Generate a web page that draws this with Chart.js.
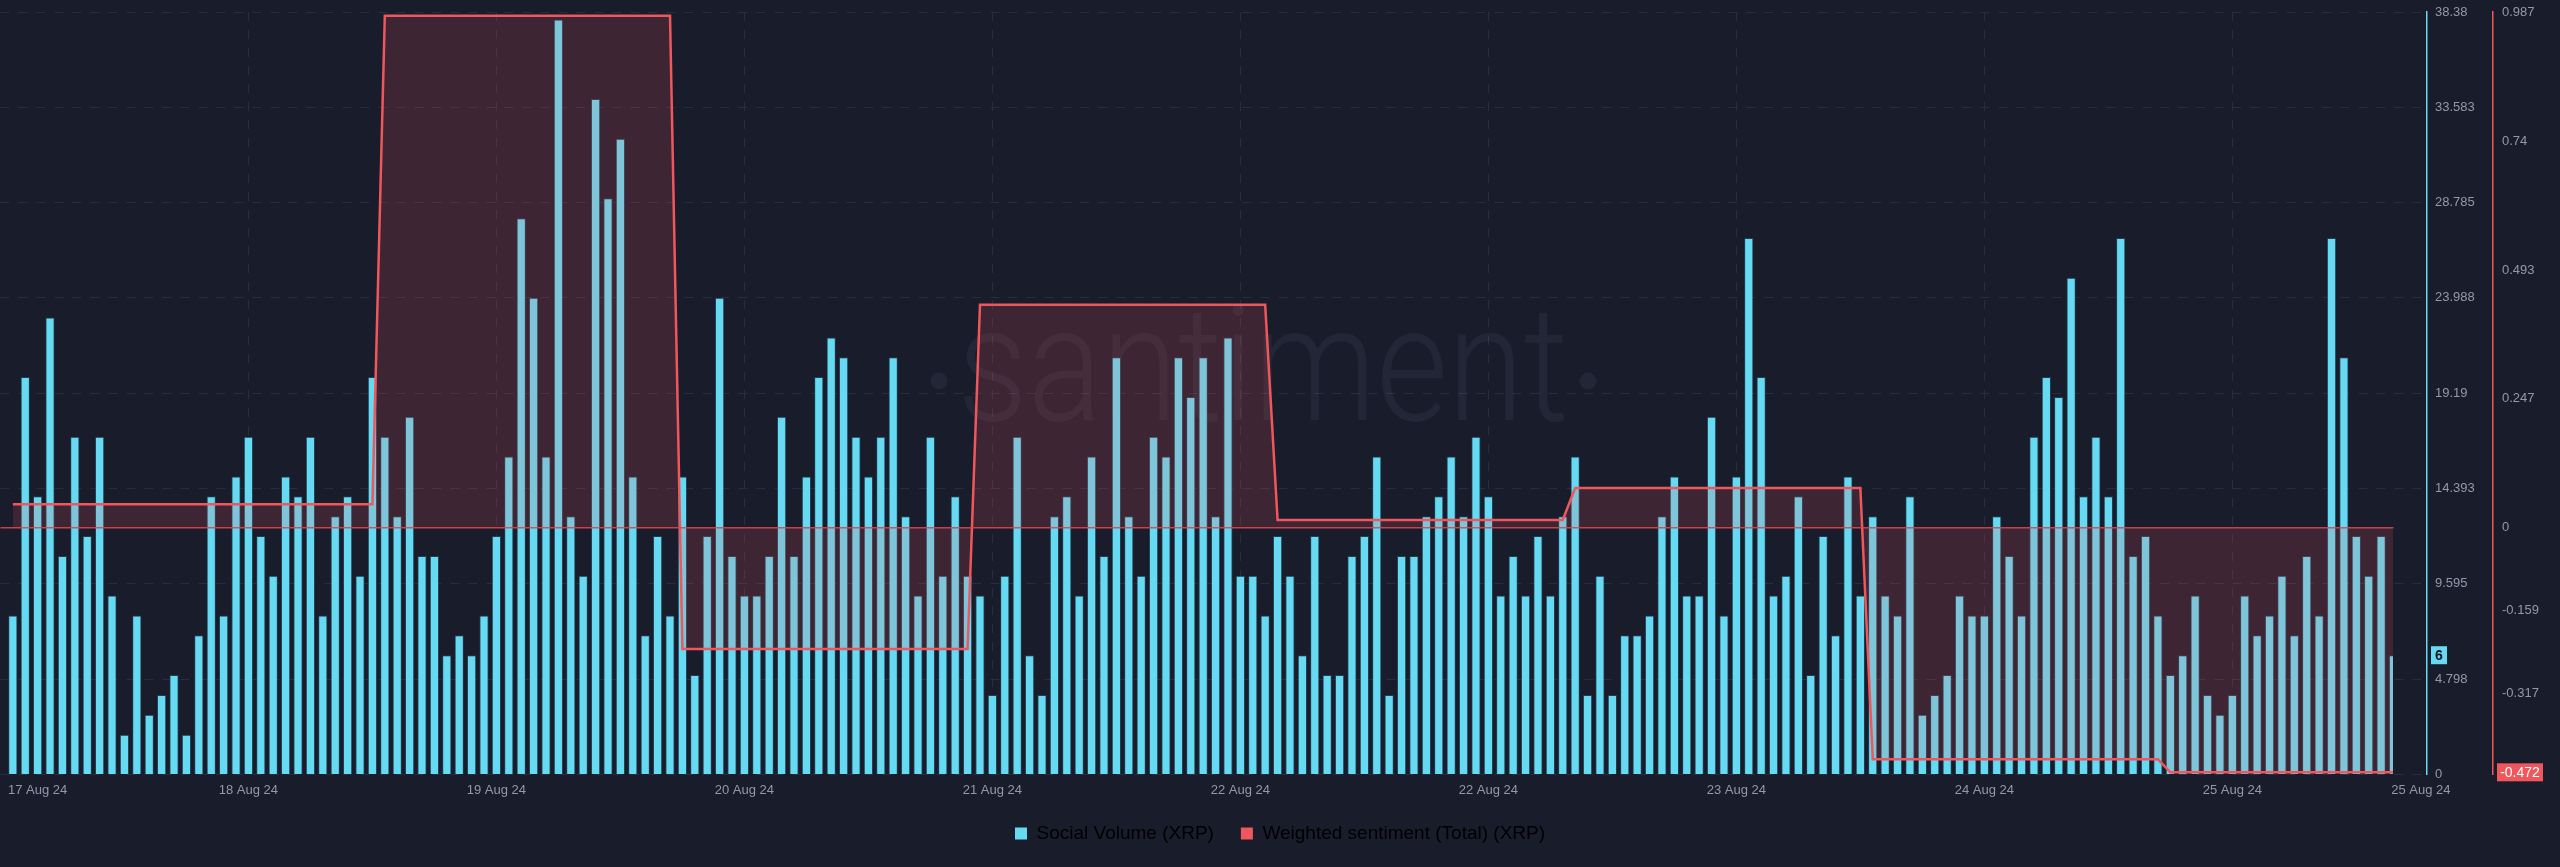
<!DOCTYPE html>
<html>
<head>
<meta charset="utf-8">
<style>
  html, body { margin: 0; padding: 0; background: #191c2b; }
  canvas { display: block; }
</style>
</head>
<body>
<canvas id="chart" width="2560" height="867"></canvas>
<script src="https://cdn.jsdelivr.net/npm/chart.js"></script>
<script>
// hourly social volume, one value per bar
const volume = [
  8, 20, 14, 23, 11, 17, 12, 17, 9, 2, 8, 3, 4, 5, 2, 7, 14, 8, 15, 17,
  12, 10, 15, 14, 17, 8, 13, 14, 10, 20, 17, 13, 18, 11, 11, 6, 7, 6, 8, 12,
  16, 28, 24, 16, 38, 13, 10, 34, 29, 32, 15, 7, 12, 8, 15, 5,
  12, 24, 11, 9, 9, 11, 18, 11, 15, 20, 22, 21, 17, 15, 17, 21, 13, 9, 17, 10,
  14, 10, 9, 4, 10, 17, 6, 4, 13, 14, 9, 16, 11, 21, 13, 10, 17, 16, 21, 19,
  21, 13, 22, 10, 10, 8, 12, 10, 6, 12, 5, 5, 11, 12, 16, 4,
  11, 11, 13, 14, 16, 13, 17, 14, 9, 11, 9, 12, 9, 13, 16, 4, 10, 4, 7, 7,
  8, 13, 15, 9, 9, 18, 8, 15, 27, 20, 9, 10, 14, 5, 12, 7, 15, 9, 13, 9,
  8, 14, 3, 4, 5, 9, 8, 8, 13, 11, 8, 17, 20, 19, 25, 14, 17,
  14, 27, 11, 12, 8, 5, 6, 9, 4, 3, 4, 9, 7, 8, 10, 7, 11, 8, 27, 21, 12, 10, 12, 6
];

// weighted sentiment is daily; each day covers this many hourly bars
const sentimentDays = [0.045, 0.98, -0.232, 0.427, 0.015, 0.076, -0.443, -0.468];
const sentimentHours = [30, 24, 24, 24, 24, 24, 24, 19];

// x tick positions are in bar units
const xTickPos = [2, 19, 39, 59, 79, 99, 119, 139, 159, 179, 194.2];
const xTickLabels = ['17 Aug 24', '18 Aug 24', '19 Aug 24', '20 Aug 24', '21 Aug 24', '22 Aug 24',
                     '22 Aug 24', '23 Aug 24', '24 Aug 24', '25 Aug 24', '25 Aug 24'];
const volumeTicks = [0, 4.798, 9.595, 14.393, 19.19, 23.988, 28.785, 33.583, 38.38];
const sentimentTicks = [-0.472, -0.317, -0.159, 0, 0.247, 0.493, 0.74, 0.987];

const CYAN = '#66daf2';
const RED = '#f0575c';
const GRID = '#292d40';
const TICK = '#9398a9';
const FONT = 'Liberation Sans';

const sentiment = [];
sentimentDays.forEach((v, d) => {
  for (let h = 0; h < sentimentHours[d]; h++) sentiment.push(v);
});

const volumePts = volume.map((v, i) => ({ x: i, y: v }));
const sentimentPts = sentiment.map((v, i) => ({ x: i, y: v }));

const watermark = {
  id: 'watermark',
  beforeDatasetsDraw(chart) {
    const ctx = chart.ctx;
    ctx.save();
    ctx.fillStyle = 'rgba(200,210,255,0.055)';
    ctx.font = '300 161px Roboto';
    ctx.textAlign = 'center';
    ctx.textBaseline = 'alphabetic';
    const w = ctx.measureText('santiment').width;
    ctx.translate(1263, 420);
    ctx.scale(611 / w, 1);
    ctx.fillText('santiment', 0, 0);
    ctx.restore();
    ctx.save();
    ctx.fillStyle = 'rgba(200,210,255,0.055)';
    [939, 1588].forEach(x => {
      ctx.beginPath();
      ctx.arc(x, 381, 8.5, 0, Math.PI * 2);
      ctx.fill();
    });
    ctx.restore();
  }
};

const overlay = {
  id: 'overlay',
  afterDatasetsDraw(chart) {
    const { ctx, chartArea } = chart;
    const x = chart.scales.x, yr = chart.scales.y1;
    const y0 = yr.getPixelForValue(0);
    ctx.save();
    ctx.strokeStyle = 'rgba(214,72,78,0.9)';
    ctx.lineWidth = 1.5;
    ctx.beginPath();
    ctx.moveTo(chartArea.left, y0);
    ctx.lineTo(x.getPixelForValue(volume.length - 1), y0);
    ctx.stroke();
    ctx.restore();
  },
  afterDraw(chart) {
    const ctx = chart.ctx;
    const ys = chart.scales.y, yr = chart.scales.y1;
    ctx.save();
    ctx.textAlign = 'center';
    ctx.textBaseline = 'middle';
    ctx.font = 'bold 14px ' + FONT;
    const lastVol = volume[volume.length - 1];
    const vy = ys.getPixelForValue(lastVol);
    ctx.fillStyle = CYAN;
    ctx.fillRect(ys.left + 4, vy - 9, 16, 18);
    ctx.fillStyle = '#11141f';
    ctx.fillText(String(lastVol), ys.left + 12, vy + 1);
    const sy = yr.getPixelForValue(sentiment[sentiment.length - 1]);
    ctx.fillStyle = RED;
    ctx.fillRect(yr.left + 4, sy - 9, 46, 18);
    ctx.fillStyle = '#ffffff';
    ctx.font = '14px ' + FONT;
    ctx.fillText(String(sentimentTicks[0]), yr.left + 27, sy + 1);
    ctx.restore();
  }
};

const noVerticalPad = s => { s.paddingTop = 0; s.paddingBottom = 0; };

new Chart(document.getElementById('chart'), {
  type: 'bar',
  data: {
    datasets: [
      {
        type: 'line',
        label: 'Weighted sentiment (Total) (XRP)',
        data: sentimentPts,
        yAxisID: 'y1',
        borderColor: RED,
        borderWidth: 2.5,
        backgroundColor: 'rgba(255,88,94,0.16)',
        fill: 'origin',
        pointRadius: 0,
        tension: 0,
        order: 0,
        clip: { left: 0, top: 5, right: -34, bottom: 0 }
      },
      {
        label: 'Social Volume (XRP)',
        data: volumePts,
        yAxisID: 'y',
        backgroundColor: CYAN,
        borderColor: 'rgba(40,90,112,0.55)',
        borderWidth: 1,
        barPercentage: 0.75,
        categoryPercentage: 1,
        order: 1,
        clip: { left: 0, top: 0, right: -34, bottom: 0 }
      }
    ]
  },
  options: {
    responsive: false,
    animation: false,
    devicePixelRatio: 1,
    layout: { padding: { top: 12, left: 0, right: 0, bottom: 14 } },
    plugins: {
      tooltip: { enabled: false },
      legend: {
        position: 'bottom',
        labels: {
          boxWidth: 12,
          boxHeight: 12,
          padding: 27,
          color: '#e6e8ef',
          font: { family: FONT, size: 19 },
          generateLabels: () => [
            { text: 'Social Volume (XRP)', fillStyle: CYAN, strokeStyle: CYAN, lineWidth: 0, datasetIndex: 1 },
            { text: 'Weighted sentiment (Total) (XRP)', fillStyle: RED, strokeStyle: RED, lineWidth: 0, datasetIndex: 0 }
          ]
        }
      }
    },
    scales: {
      x: {
        type: 'linear',
        min: -1,
        max: 194.7,
        offset: false,
        afterBuildTicks: s => { s.ticks = xTickPos.map(v => ({ value: v })); },
        afterFit: s => { s.height = s.height - 9; },
        ticks: {
          autoSkip: false,
          maxRotation: 0,
          padding: 8,
          color: TICK,
          font: { family: FONT, size: 13 },
          callback: (v, i) => xTickLabels[i]
        },
        grid: {
          offset: false,
          drawTicks: false,
          color: c => (c.index === 0 || c.index === xTickPos.length - 1) ? 'rgba(0,0,0,0)' : GRID
        },
        border: { display: false, dash: [9, 9] }
      },
      y: {
        position: 'right',
        min: 0,
        max: 38.38,
        afterBuildTicks: s => { s.ticks = volumeTicks.map(v => ({ value: v })); },
        afterFit: s => { s.width = 66; noVerticalPad(s); },
        ticks: {
          padding: 8,
          color: TICK,
          font: { family: FONT, size: 13 },
          callback: (v, i) => String(volumeTicks[i])
        },
        grid: { color: GRID, drawTicks: false },
        border: { display: true, color: CYAN, width: 1.5, dash: [9, 9] }
      },
      y1: {
        position: 'right',
        min: -0.472,
        max: 0.987,
        afterBuildTicks: s => { s.ticks = sentimentTicks.map(v => ({ value: v })); },
        afterFit: s => { s.width = 67; noVerticalPad(s); },
        ticks: {
          padding: 9,
          color: c => c.index === 0 ? 'rgba(0,0,0,0)' : TICK,
          font: { family: FONT, size: 13 },
          callback: (v, i) => String(sentimentTicks[i])
        },
        grid: { display: false, drawTicks: false },
        border: { display: true, color: RED, width: 1.5 }
      }
    }
  },
  plugins: [watermark, overlay]
});
</script>
</body>
</html>
